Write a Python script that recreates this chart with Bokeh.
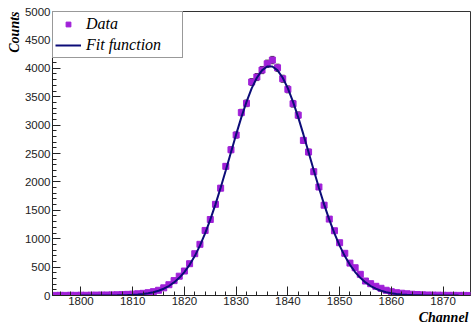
import math
from bokeh.plotting import figure
from bokeh.models import (ColumnDataSource, Whisker, TeeHead, Title, SingleIntervalTicker,
                          Range1d)
from bokeh.embed import file_html
from bokeh.resources import INLINE

# ---- data ----
channels = list(range(1795, 1876))
counts = [2, 3, 2, 4, 3, 5, 4, 6, 7, 8,
          9, 11, 13, 16, 20, 24, 30, 38, 50, 68,
          92, 135, 190, 262, 340, 431, 560, 736, 901, 1145,
          1338, 1605, 1890, 2274, 2566, 2825, 3221, 3383, 3758, 3846,
          3969, 4080, 4145, 4009, 3816, 3629, 3376, 3175, 2731, 2526,
          2179, 1910, 1590, 1345, 1140, 929, 743, 570, 489, 373,
          255, 208, 162, 127, 92, 67, 49, 40, 30, 22,
          17, 12, 9, 7, 6, 4, 3, 3, 2, 2, 1]

fit_channels = list(range(1800, 1874))
fit_values = [0.06, 0.11, 0.19, 0.33, 0.58, 0.99, 1.67, 2.76, 4.5, 7.2,
              11.3, 17.4, 26.5, 39.6, 58.2, 84.2, 119.6, 167, 230, 311,
              413, 540, 694, 878, 1092, 1335, 1605, 1897, 2206, 2522,
              2836, 3136, 3410, 3646, 3834, 3964, 4032, 4032, 3964, 3834,
              3646, 3410, 3136, 2836, 2522, 2206, 1897, 1605, 1335, 1092,
              878, 694, 540, 413, 311, 230, 167, 119.6, 84.2, 58.2,
              39.6, 26.5, 17.4, 11.3, 7.2, 4.5, 2.8, 1.7, 1.0, 0.6,
              0.33, 0.19, 0.11, 0.06]

x_title = "Channel"
y_title = "Counts"
legend_data = "Data"
legend_fit = "Fit function"

err = [math.sqrt(c) for c in counts]
src = ColumnDataSource(dict(x=channels, y=counts,
                            lo=[c - e for c, e in zip(counts, err)],
                            hi=[c + e for c, e in zip(counts, err)]))
fit_src = ColumnDataSource(dict(x=fit_channels, y=fit_values))

p = figure(width=471, height=324, output_backend="svg", toolbar_location=None,
           x_range=Range1d(1794.5, 1875.3), y_range=Range1d(0, 5000),
           min_border_left=52, min_border_right=1, min_border_top=11, min_border_bottom=29)
p.xgrid.visible = False
p.ygrid.visible = False
p.outline_line_color = "#333333"
p.outline_line_width = 1
p.background_fill_color = "white"
p.border_fill_color = "white"

wh = Whisker(source=src, base="x", lower="lo", upper="hi", dimension="height",
             line_color="#333333", line_width=1,
             upper_head=TeeHead(size=4, line_color="#333333", line_width=1),
             lower_head=TeeHead(size=4, line_color="#333333", line_width=1))
p.add_layout(wh)

p.scatter("x", "y", source=src, marker="square", size=6, fill_color="#a020d8",
          line_color="#a020d8", legend_label=legend_data)
p.line("x", "y", source=fit_src, line_color="#0c0c78", line_width=2,
       legend_label=legend_fit)

for ax in (p.xaxis[0], p.yaxis[0]):
    ax.axis_line_color = "#222222"
    ax.major_tick_line_color = "#222222"
    ax.minor_tick_line_color = "#222222"
    ax.major_tick_out = 0
    ax.minor_tick_out = 0
    ax.major_label_text_font = "Liberation Sans"
    ax.major_label_text_font_size = "11.5px"
    ax.major_label_text_color = "#222222"

p.xaxis[0].ticker = SingleIntervalTicker(interval=10, num_minor_ticks=5)
p.yaxis[0].ticker = SingleIntervalTicker(interval=500, num_minor_ticks=5)
p.xaxis[0].major_tick_in = 9
p.xaxis[0].minor_tick_in = 4
p.yaxis[0].major_tick_in = 8
p.yaxis[0].minor_tick_in = 4
p.xaxis[0].major_label_standoff = 1
p.yaxis[0].major_label_standoff = 2
p.yaxis[0].major_label_orientation = "horizontal"

p.add_layout(Title(text=x_title, align="right", text_font="Liberation Serif",
                   text_font_style="bold italic", text_font_size="14px",
                   text_color="black", standoff=0, offset=2), "below")
p.add_layout(Title(text=y_title, align="right", text_font="Liberation Serif",
                   text_font_style="bold italic", text_font_size="14px",
                   text_color="black", standoff=0, offset=0), "left")

lg = p.legend[0]
lg.location = "top_left"
lg.margin = 0
lg.padding = 2
lg.spacing = 1
lg.label_height = 20
lg.glyph_height = 12
lg.glyph_width = 26
lg.label_standoff = 5
lg.label_width = 94
lg.border_line_color = "#333333"
lg.border_line_width = 1
lg.background_fill_alpha = 1
lg.label_text_font = "Liberation Serif"
lg.label_text_font_style = "italic"
lg.label_text_font_size = "16px"
lg.label_text_color = "black"

open("out.html", "w").write(file_html(p, INLINE))
